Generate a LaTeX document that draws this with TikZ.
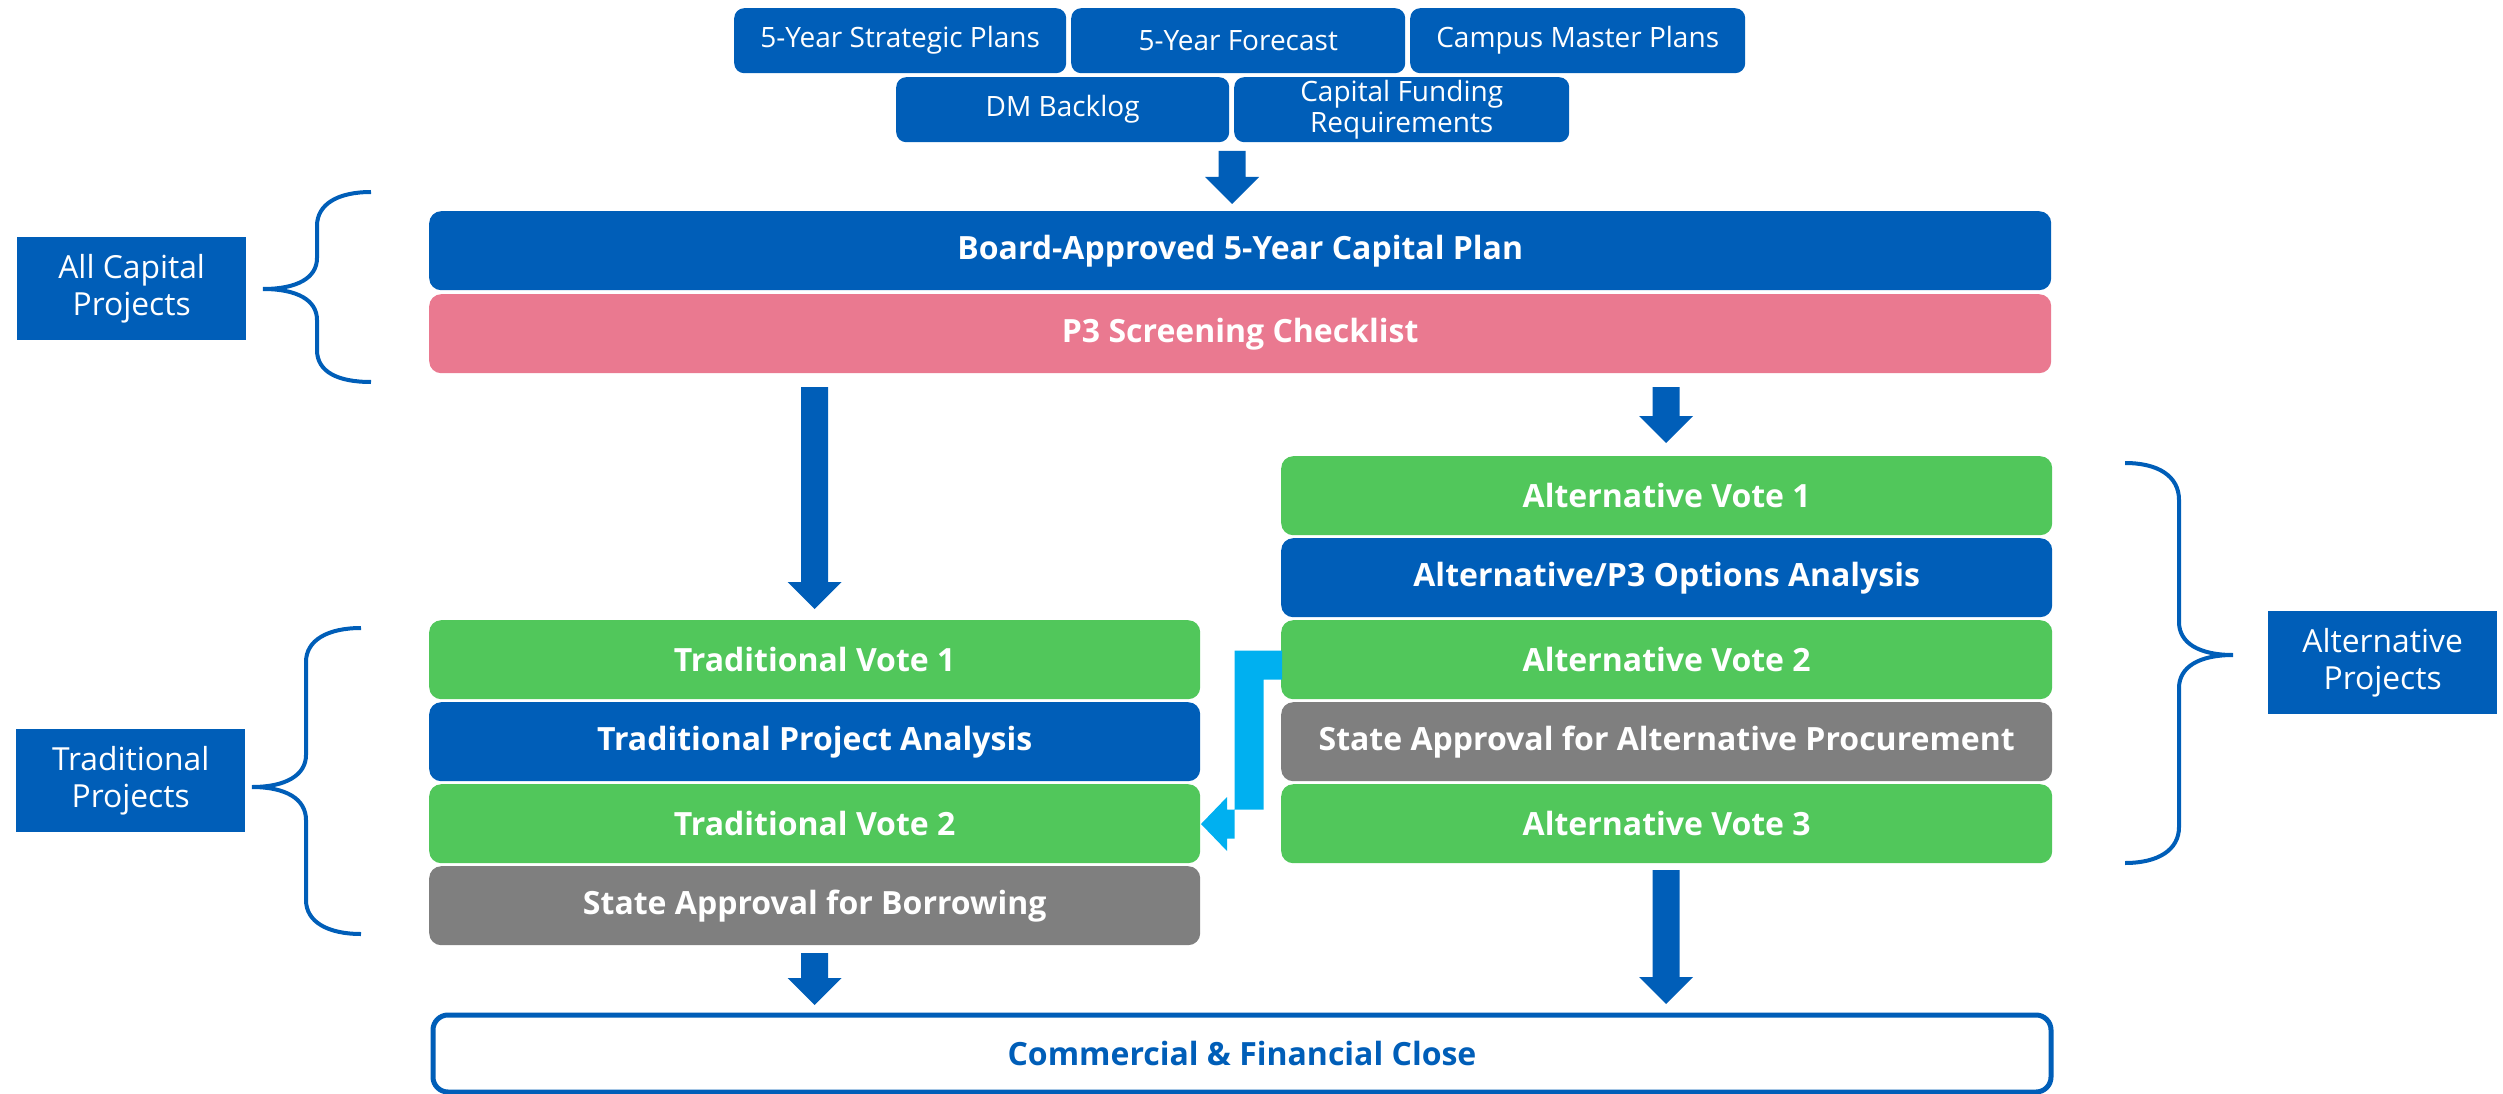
\documentclass[tikz,border=0pt]{standalone}
\usepackage{fontspec}
\setmainfont{Open Sans}
\definecolor{navy}{HTML}{005EB8}
\definecolor{rose}{HTML}{EA7990}
\definecolor{leaf}{HTML}{51C75B}
\definecolor{slate}{HTML}{7F7F7F}
\definecolor{sky}{HTML}{00B0F0}
% vertical block arrow: #1 fill style, #2 start of shaft, #3 tip
\newcommand\blockdown[3]{%
  \fill[#1] ([xshift=-13.5pt]#2) -- ([xshift=13.5pt]#2)
    -- ([xshift=13.5pt,yshift=27pt]#3) -- ([xshift=27pt,yshift=27pt]#3)
    -- (#3) -- ([xshift=-27pt,yshift=27pt]#3)
    -- ([xshift=-13.5pt,yshift=27pt]#3) -- cycle;}
\begin{document}
\begin{tikzpicture}[x=1pt,y=-1pt,
  cell/.style={rectangle, rounded corners=12pt, inner sep=0pt, anchor=north west,
    text=white, minimum height=79pt, font=\fontsize{32}{38}\selectfont\bfseries},
  wide/.style={cell, minimum width=1622pt},
  half/.style={cell, minimum width=771pt},
  src/.style={rectangle, rounded corners=10pt, inner sep=0pt, anchor=north west,
    fill=navy, text=white, minimum height=65pt, align=center,
    font=\fontsize{28}{31}\selectfont},
  tag/.style={rectangle, inner sep=0pt, anchor=north west, fill=navy, text=white,
    minimum width=229pt, minimum height=103pt, align=center,
    font=\fontsize{31.8}{37}\selectfont},
  brace/.style={draw=navy, line width=4pt},
]
\useasboundingbox (0,0) rectangle (2503,1094);

% input documents
\node[src, minimum width=332pt] (s1) at (734,8) {5-Year Strategic Plans};
\node[src, minimum width=334pt] (s2) at (1071,8) {5-Year Forecast};
\node[src, minimum width=335pt] (s3) at (1410,8) {Campus Master Plans};
\node[src, minimum width=333pt] (s4) at (896,77) {DM Backlog};
\node[src, minimum width=335pt] (s5) at (1234,77) {Capital Funding\\Requirements};

% capital plan and screening
\node[wide, fill=navy] (plan) at (429,211) {Board-Approved 5-Year Capital Plan};
\node[wide, fill=rose] (screen) at (429,294) {P3 Screening Checklist};

% alternative track
\node[half, fill=leaf] (av1) at (1281,456) {Alternative Vote 1};
\node[half, fill=navy] (aopt) at (1281,538) {Alternative/P3 Options Analysis};
\node[half, fill=leaf] (av2) at (1281,620) {Alternative Vote 2};
\node[half, fill=slate] (aproc) at (1281,702) {State Approval for Alternative Procurement};
\node[half, fill=leaf] (av3) at (1281,784) {Alternative Vote 3};

% traditional track
\node[half, fill=leaf] (tv1) at (429,620) {Traditional Vote 1};
\node[half, fill=navy] (tpa) at (429,702) {Traditional Project Analysis};
\node[half, fill=leaf] (tv2) at (429,784) {Traditional Vote 2};
\node[half, fill=slate] (tborrow) at (429,866) {State Approval for Borrowing};

% closing step
\node[rectangle, draw=navy, line width=5pt, rounded corners=15pt, fill=white,
  inner sep=0pt, anchor=north west, minimum width=1618pt, minimum height=77pt,
  text=navy, font=\fontsize{32}{38}\selectfont\bfseries] (close) at (430.5,1012.5)
  {Commercial \& Financial Close};

% group labels
\node[tag] (allcap) at (17,237) {All Capital\\Projects};
\node[tag] (trad) at (16,729) {Traditional\\Projects};
\node[tag] (alt) at (2268,611) {Alternative\\Projects};

% braces
\draw[brace] (371,192) .. controls (338,192) and (317,204) .. (317,226)
  -- (317,258) .. controls (317,278) and (297,289) .. (263,289)
  .. controls (297,289) and (317,300) .. (317,320)
  -- (317,350) .. controls (317,372) and (338,382) .. (371,382);
\draw[brace] (361,628) .. controls (328,628) and (306,640) .. (306,662)
  -- (306,755) .. controls (306,775) and (286,787) .. (252,787)
  .. controls (286,787) and (306,799) .. (306,820)
  -- (306,900) .. controls (306,922) and (328,934) .. (361,934);
\draw[brace] (2125,463) .. controls (2158,463) and (2179,476) .. (2179,500)
  -- (2179,622) .. controls (2179,643) and (2199,655) .. (2233,655)
  .. controls (2199,655) and (2179,667) .. (2179,688)
  -- (2179,827) .. controls (2179,850) and (2158,863) .. (2125,863);

% arrow end points
\coordinate (a0s) at (1232,151);  \coordinate (a0t) at (1232,204);
\coordinate (a1s) at (814.5,387); \coordinate (a1t) at (814.5,609);
\coordinate (a2s) at (1666,387);  \coordinate (a2t) at (1666,443);
\coordinate (a3s) at (1666,870);  \coordinate (a3t) at (1666,1004);
\coordinate (a4s) at (814.5,953); \coordinate (a4t) at (814.5,1005);
\coordinate (cs) at (1282,665);   \coordinate (ct) at (1201,824);

\blockdown{navy}{a0s}{a0t}
\blockdown{navy}{a1s}{a1t}
\blockdown{navy}{a2s}{a2t}
\blockdown{navy}{a3s}{a3t}
\blockdown{navy}{a4s}{a4t}

% elbow arrow from Alternative Vote 2 to Traditional Vote 2
\fill[sky] ([yshift=14.5pt]cs) -- ++(-47.5,0) -- ++(0,188) -- ++(-7.5,0)
  -- ++(0,12.5) -- (ct) -- ++(26,-27) -- ++(0,12.5) -- ++(36.5,0)
  -- ++(0,-130) -- ++(18.5,0) -- cycle;
\end{tikzpicture}
\end{document}
